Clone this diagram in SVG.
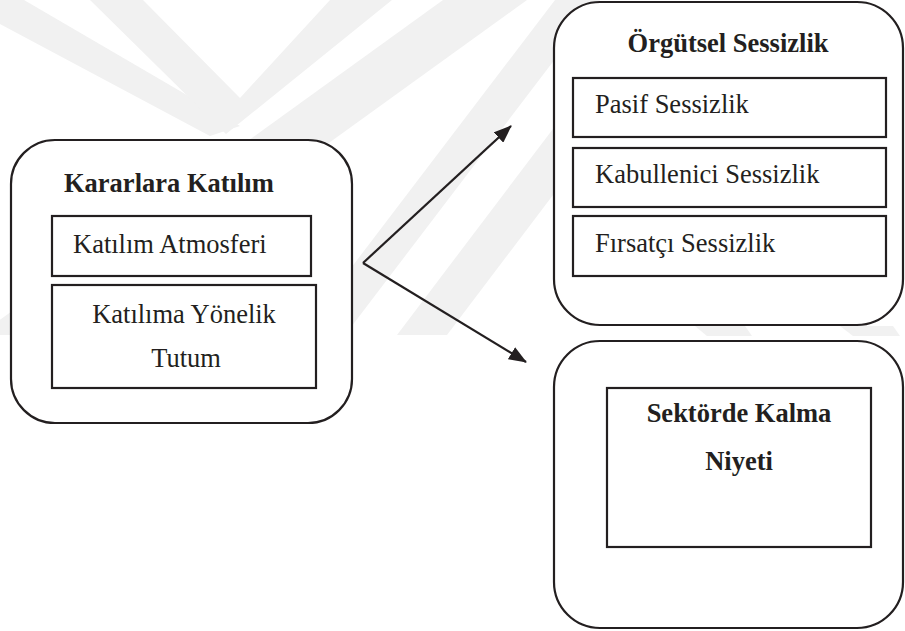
<svg xmlns="http://www.w3.org/2000/svg" width="905" height="631" viewBox="0 0 905 631">
<defs>
<style>
.wm{fill:#f1f1f1;stroke:none}
.outer{fill:#ffffff;stroke:#231f20;stroke-width:2.2}
.inner{fill:#ffffff;stroke:#231f20;stroke-width:2.2}
.t{font-family:'Liberation Serif','Times New Roman',serif;font-size:26.5px;fill:#231f20}
.b{font-weight:bold}
.c{text-anchor:middle}
.conn{stroke:#231f20;stroke-width:2.2;fill:none}
</style>
<marker id="ah" viewBox="0 0 18 14" refX="17" refY="7" markerWidth="18" markerHeight="14" markerUnits="userSpaceOnUse" orient="auto">
<path d="M0,0 L18,7 L0,14 Z" fill="#231f20"/>
</marker>
</defs>
<rect width="905" height="631" fill="#ffffff"/>
<g id="watermark">
<polygon class="wm" points="0,0 24,0 240,126 210,136 0,24"/>
<polygon class="wm" points="90,0 143,0 240,98 330,0 392,0 226,134"/>
<polygon class="wm" points="443,0 527,0 63,335 -21,335"/>
<polygon class="wm" points="397,335 447,335 640,80 590,80"/>
<polygon class="wm" points="300,335 345,335 600,0 555,0"/>
<polygon class="wm" points="695,326 745,326 752,336 707,336"/>
<polygon class="wm" points="840,326 893,326 900,336 853,336"/>
</g>
<g id="kararlara">
<rect class="outer" x="11" y="140" width="341" height="283" rx="44" ry="44"/>
<text class="t b" x="64" y="192">Kararlara Katılım</text>
</g>
<g id="atmosfer">
<rect class="inner" x="52" y="216" width="259" height="60"/>
<text class="t" x="73" y="253">Katılım Atmosferi</text>
</g>
<g id="tutum">
<rect class="inner" x="52" y="285" width="264" height="103"/>
<text class="t c" x="184" y="323">Katılıma Yönelik</text>
<text class="t c" x="186" y="367">Tutum</text>
</g>
<g id="sessizlik">
<rect class="outer" x="554" y="2" width="349" height="323" rx="46" ry="46"/>
<text class="t b c" x="728" y="52">Örgütsel Sessizlik</text>
</g>
<g id="pasif">
<rect class="inner" x="573" y="78" width="313" height="59"/>
<text class="t" x="595" y="113">Pasif Sessizlik</text>
</g>
<g id="kabullenici">
<rect class="inner" x="573" y="148" width="313" height="59"/>
<text class="t" x="595" y="183">Kabullenici Sessizlik</text>
</g>
<g id="firsatci">
<rect class="inner" x="573" y="216" width="313" height="60"/>
<text class="t" x="595" y="252">Fırsatçı Sessizlik</text>
</g>
<g id="sektor-outer">
<rect class="outer" x="554" y="341" width="349" height="287" rx="46" ry="46"/>
</g>
<g id="sektor">
<rect class="inner" x="607" y="388" width="264" height="159"/>
<text class="t b c" x="739" y="422">Sektörde Kalma</text>
<text class="t b c" x="739" y="470">Niyeti</text>
</g>
<g id="connectors">
<path class="conn" d="M363,263 L511,126" marker-end="url(#ah)"/>
<path class="conn" d="M363,263 L526,362" marker-end="url(#ah)"/>
</g>
</svg>
